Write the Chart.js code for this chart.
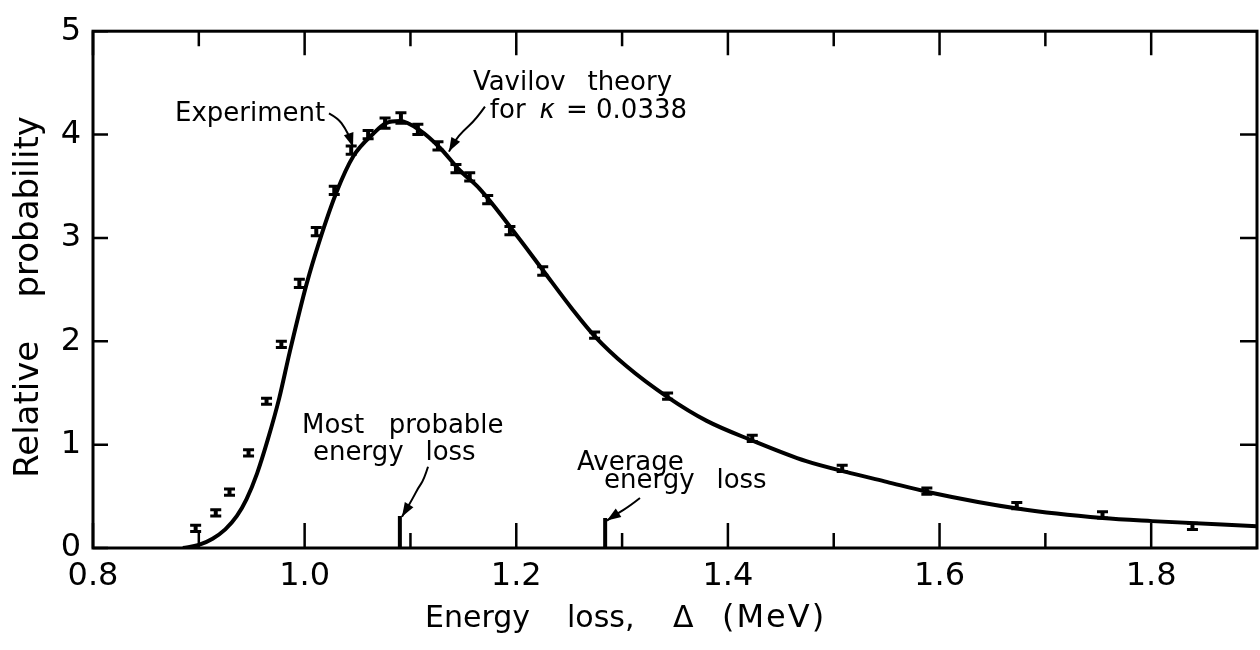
<!DOCTYPE html>
<html>
<head>
<meta charset="utf-8">
<script src="https://cdn.jsdelivr.net/npm/chart.js@4.4.1/dist/chart.umd.min.js"></script>
<style>
  html, body { margin: 0; padding: 0; background: #fff; }
  #wrap { width: 1260px; height: 650px; }
</style>
</head>
<body>
<div id="wrap"><canvas id="lossChart" width="1260" height="650"></canvas></div>
<script>
// Vavilov theory for kappa = 0.0338
const theoryX = [0.885, 0.900, 0.913, 0.925, 0.936, 0.945, 0.955, 0.9655, 0.976, 0.986, 1.002, 1.014, 1.030, 1.046,
                 1.065, 1.077, 1.090, 1.109, 1.128, 1.147, 1.165, 1.203, 1.225, 1.253, 1.274, 1.304, 1.343, 1.380,
                 1.423, 1.474, 1.518, 1.550, 1.590, 1.675, 1.754, 1.801, 1.900];
const theoryY = [0.00, 0.03, 0.09, 0.18, 0.31, 0.47, 0.72, 1.06, 1.45, 1.90, 2.56, 2.97, 3.44, 3.79,
                 4.01, 4.11, 4.13, 4.04, 3.87, 3.65, 3.48, 2.99, 2.69, 2.31, 2.05, 1.76, 1.46, 1.23,
                 1.04, 0.84, 0.72, 0.64, 0.54, 0.38, 0.29, 0.26, 0.21];

// Experiment points and their error bars
const expX = [0.897, 0.916, 0.929, 0.947, 0.964, 0.978, 0.995, 1.011, 1.028, 1.044, 1.060, 1.076, 1.091, 1.107,
              1.126, 1.143, 1.156, 1.173, 1.194, 1.225, 1.274, 1.343, 1.423, 1.508, 1.588, 1.673, 1.754, 1.839];
const expY = [0.19, 0.34, 0.54, 0.92, 1.42, 1.97, 2.56, 3.06, 3.46, 3.85, 4.00, 4.11, 4.16, 4.05,
              3.89, 3.67, 3.59, 3.37, 3.07, 2.68, 2.06, 1.47, 1.06, 0.77, 0.55, 0.41, 0.32, 0.21];
const expErr = [0.03, 0.03, 0.03, 0.03, 0.03, 0.03, 0.04, 0.04, 0.04, 0.04, 0.04, 0.05, 0.05, 0.05,
                0.04, 0.04, 0.04, 0.04, 0.04, 0.04, 0.03, 0.03, 0.03, 0.03, 0.03, 0.03, 0.03, 0.03];

// Markers standing on the axis
const mostProbableX = 1.090;
const mostProbableH = 0.31;
const averageX = 1.284;
const averageH = 0.29;

// Ticks
const xMajorTicks = [0.8, 1.0, 1.2, 1.4, 1.6, 1.8];
const xMinorTicks = [0.9, 1.1, 1.3, 1.5, 1.7];
const yTicks = [0, 1, 2, 3, 4, 5];

const FONT = '"DejaVu Sans", sans-serif';

// Labels and arrows, placed in data units
const notes = [
    { text: 'Experiment', x: 0.8775, y: 4.13 },
    { text: 'Vavilov  \u2009theory', x: 1.159, y: 4.43 },
    { text: 'for', x: 1.175, y: 4.165 },
    { text: '\u03ba', x: 1.222, y: 4.165, italic: true },
    { text: '= 0.0338', x: 1.247, y: 4.165 },
    { text: 'Most   probable', x: 0.9975, y: 1.117 },
    { text: 'energy  \u2009loss', x: 1.008, y: 0.852 },
    { text: 'Average', x: 1.2574, y: 0.758 },
    { text: 'energy  \u2009loss', x: 1.283, y: 0.578 }
];
const arrows = [
    [[1.0230, 4.205], [1.0315, 4.157], [1.0381, 4.063], [1.0429, 3.968], [1.0457, 3.88]],
    [[1.1704, 4.271], [1.1619, 4.148], [1.1496, 4.034], [1.1420, 3.939], [1.1364, 3.835]],
    [[1.1166, 0.786], [1.1128, 0.663], [1.1071, 0.578], [1.1024, 0.483], [1.0920, 0.303]],
    [[1.3169, 0.483], [1.3075, 0.407], [1.2952, 0.331], [1.2857, 0.265]]
];

/**
 * Barres d'erreur des points expérimentaux
 */
const errorBars = {
    id: 'errorBars',
    afterDatasetsDraw(chart) {
        const ctx = chart.ctx;
        const y = chart.scales.y;
        const meta = chart.getDatasetMeta(1);
        ctx.save();
        ctx.strokeStyle = '#000';
        meta.data.forEach((pt, i) => {
            const top = y.getPixelForValue(expY[i] + expErr[i]);
            const bot = y.getPixelForValue(expY[i] - expErr[i]);
            ctx.lineWidth = 4;
            ctx.beginPath();
            ctx.moveTo(pt.x, top);
            ctx.lineTo(pt.x, bot);
            ctx.stroke();
            ctx.lineWidth = 3;
            ctx.beginPath();
            ctx.moveTo(pt.x - 5.5, top); ctx.lineTo(pt.x + 5.5, top);
            ctx.moveTo(pt.x - 5.5, bot); ctx.lineTo(pt.x + 5.5, bot);
            ctx.stroke();
        });
        ctx.restore();
    }
};

function drawArrow(ctx, pts) {
    ctx.beginPath();
    ctx.moveTo(pts[0][0], pts[0][1]);
    for (let i = 1; i < pts.length - 1; i++) {
        const mx = (pts[i][0] + pts[i + 1][0]) / 2;
        const my = (pts[i][1] + pts[i + 1][1]) / 2;
        ctx.quadraticCurveTo(pts[i][0], pts[i][1], mx, my);
    }
    const [tx, ty] = pts[pts.length - 1];
    const [px, py] = pts[pts.length - 2];
    ctx.lineTo(tx, ty);
    ctx.stroke();
    const ang = Math.atan2(ty - py, tx - px);
    const L = 14, W = 5;
    const c = Math.cos(ang), s = Math.sin(ang);
    ctx.beginPath();
    ctx.moveTo(tx, ty);
    ctx.lineTo(tx - L * c + W * s, ty - L * s - W * c);
    ctx.lineTo(tx - L * c - W * s, ty - L * s + W * c);
    ctx.closePath();
    ctx.fill();
}

/**
 * Cadre, graduations vers l'intérieur, titres et annotations
 */
const frame = {
    id: 'frame',
    afterDraw(chart) {
        const { ctx, chartArea: a, scales: { x, y } } = chart;
        ctx.save();
        ctx.strokeStyle = '#000';
        ctx.fillStyle = '#000';

        ctx.lineWidth = 3;
        ctx.strokeRect(a.left, a.top, a.right - a.left, a.bottom - a.top);

        ctx.lineWidth = 2.5;
        ctx.beginPath();
        xMajorTicks.concat(xMinorTicks).forEach(v => {
            const px = x.getPixelForValue(v);
            const major = xMajorTicks.includes(v);
            ctx.moveTo(px, a.bottom); ctx.lineTo(px, a.bottom - (major ? 25 : 15));
            ctx.moveTo(px, a.top); ctx.lineTo(px, a.top + (major ? 24 : 15));
        });
        yTicks.forEach(v => {
            const py = y.getPixelForValue(v);
            ctx.moveTo(a.left, py); ctx.lineTo(a.left + 15, py);
            ctx.moveTo(a.right, py); ctx.lineTo(a.right - 17, py);
        });
        ctx.stroke();

        // annotations
        ctx.textBaseline = 'alphabetic';
        ctx.textAlign = 'left';
        notes.forEach(n => {
            ctx.font = (n.italic ? 'italic ' : '') + '26px ' + FONT;
            ctx.fillText(n.text, x.getPixelForValue(n.x), y.getPixelForValue(n.y));
        });
        ctx.lineWidth = 2;
        arrows.forEach(list => {
            drawArrow(ctx, list.map(p => [x.getPixelForValue(p[0]), y.getPixelForValue(p[1])]));
        });

        // x title
        const ty = a.bottom + 79;
        ctx.font = '30px ' + FONT;
        ctx.fillText('Energy', 425, ty);
        ctx.fillText('loss,', 567, ty);
        ctx.fillText('\u0394', 673, ty);
        ctx.letterSpacing = '2px';
        ctx.font = '32px ' + FONT;
        ctx.fillText('(MeV)', 722, ty);
        ctx.letterSpacing = '0px';

        // y title
        ctx.font = '34px ' + FONT;
        ctx.translate(38, 297);
        ctx.rotate(-Math.PI / 2);
        ctx.textAlign = 'center';
        ctx.fillText('Relative    probability', 0, 0);
        ctx.restore();
    }
};

const pts = (xs, ys) => xs.map((v, i) => ({ x: v, y: ys[i] }));

new Chart(document.getElementById('lossChart'), {
    type: 'scatter',
    data: {
        datasets: [
            {
                label: 'Vavilov theory',
                data: pts(theoryX, theoryY),
                showLine: true,
                borderColor: '#000',
                borderWidth: 4,
                pointRadius: 0,
                cubicInterpolationMode: 'monotone'
            },
            {
                label: 'Experiment',
                data: pts(expX, expY),
                pointRadius: 0
            },
            {
                label: 'Most probable energy loss',
                data: [{ x: mostProbableX, y: 0 }, { x: mostProbableX, y: mostProbableH }],
                showLine: true,
                borderColor: '#000',
                borderWidth: 4,
                pointRadius: 0
            },
            {
                label: 'Average energy loss',
                data: [{ x: averageX, y: 0 }, { x: averageX, y: averageH }],
                showLine: true,
                borderColor: '#000',
                borderWidth: 4,
                pointRadius: 0
            }
        ]
    },
    options: {
        responsive: false,
        animation: false,
        layout: { padding: { top: 20, right: 3, left: 0, bottom: 0 } },
        plugins: {
            legend: { display: false },
            tooltip: { enabled: false }
        },
        scales: {
            x: {
                type: 'linear',
                min: 0.8,
                max: 1.9,
                grid: { display: false, drawTicks: false },
                border: { display: false },
                afterBuildTicks: s => { s.ticks = xMajorTicks.map(v => ({ value: v })); },
                afterFit: s => { s.height = 102; },
                ticks: {
                    color: '#000',
                    padding: 9,
                    font: { family: 'DejaVu Sans', size: 32 },
                    callback: v => Number(v).toFixed(1)
                }
            },
            y: {
                min: 0,
                max: 5,
                grid: { display: false, drawTicks: false },
                border: { display: false },
                afterBuildTicks: s => { s.ticks = yTicks.map(v => ({ value: v })); },
                afterFit: s => { s.width = 93; },
                ticks: {
                    color: '#000',
                    padding: 12,
                    font: { family: 'DejaVu Sans', size: 32 },
                    callback: v => String(v)
                }
            }
        }
    },
    plugins: [errorBars, frame]
});
</script>
</body>
</html>
